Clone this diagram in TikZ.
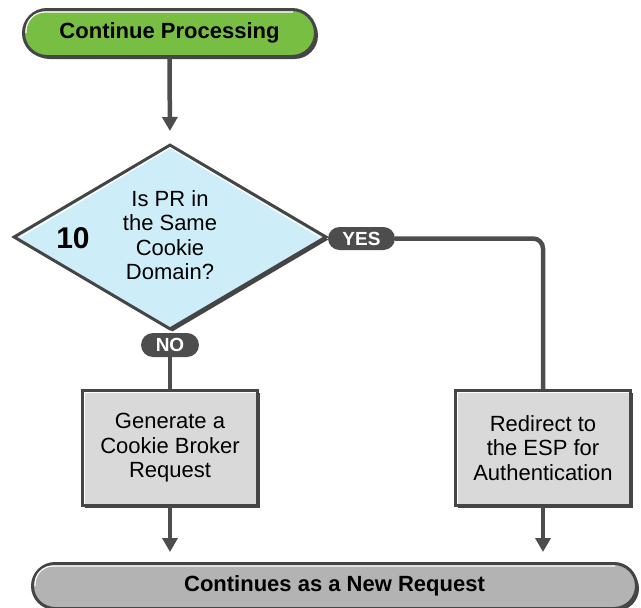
\documentclass[tikz,border=0pt]{standalone}
\usepackage{fontspec}
\setmainfont{Liberation Sans}
\usetikzlibrary{shapes.geometric,arrows.meta,calc,shadows}
\definecolor{cline}{HTML}{4D4D4D}
\definecolor{cborder}{HTML}{454545}
\definecolor{cgreen}{HTML}{78BE43}
\definecolor{cblue}{HTML}{CDEEF9}
\definecolor{cbox}{HTML}{D9D9D9}
\definecolor{cpill}{HTML}{B3B3B3}
\definecolor{ctag}{HTML}{4D4D4D}
\tikzset{
  body/.style={font=\fontsize{22}{24.5}\selectfont},
  shade3d/.style={drop shadow={shadow xshift=2.5pt, shadow yshift=-2.5pt, fill=cborder, opacity=1}},
  pill/.style={draw=cborder, line width=3pt, inner sep=0pt, shade3d,
    font=\fontsize{22}{24.5}\selectfont\bfseries},
  procbox/.style={draw=cborder, line width=3pt, fill=cbox, inner sep=0pt, shade3d,
    minimum width=175pt, minimum height=115pt, align=center,
    font=\fontsize{22}{24.5}\selectfont},
  tag/.style={fill=ctag, text=white, inner sep=0pt,
    font=\fontsize{19}{19}\selectfont\bfseries},
  conn/.style={draw=cline, line width=4.5pt},
  arrowconn/.style={conn, -{Triangle[length=14pt,width=15pt]}},
  hilite/.style={draw=white, line width=1.2pt},
}
\begin{document}
\begin{tikzpicture}[x=1pt,y=-1pt]
\useasboundingbox (0,0) rectangle (641,608);
% top terminal
\node[pill, fill=cgreen, minimum width=292pt, minimum height=47pt, rounded corners=23.5pt]
  (start) at (169.5,33) {Continue Processing};
\draw[hilite, rounded corners=19pt] ($(start.west)+(4,0)$) |- ($(start.north east)+(-24,4)$);
% decision
\node[diamond, draw=cborder, line width=3pt, fill=cblue, inner sep=0pt, shade3d,
  minimum width=313pt, minimum height=185pt] (dec) at (170,237) {};
\draw[hilite] ($(dec.west)+(8,0)$) -- ($(dec.north)+(0,4.8)$) -- ($(dec.east)+(-8,0)$);
\node[body, align=center] (q) at (170,235) {Is PR in\\the Same\\Cookie\\Domain?};
\node[font=\fontsize{30}{30}\selectfont\bfseries] (num) at (73,238) {10};
% tags
\node[tag, minimum width=67pt, minimum height=23pt, rounded corners=11.5pt]
  (yes) at (361.5,238.5) {YES};
\node[tag, minimum width=58pt, minimum height=24pt, rounded corners=12pt]
  (no) at (170,345) {NO};
% process boxes
\node[procbox] (gen) at (170,448) {Generate a\\Cookie Broker\\Request};
\node[procbox] (red) at (543,448) {Redirect to\\the ESP for\\Authentication};
\foreach \b in {gen,red}{
  \draw[hilite] ($(\b.south west)+(3.5,-3.5)$) -- ($(\b.north west)+(3.5,3.5)$) -- ($(\b.north east)+(-3.5,3.5)$);
}
% bottom terminal
\node[pill, fill=cpill, minimum width=604pt, minimum height=45pt, rounded corners=22.5pt]
  (end) at (334.5,586) {Continues as a New Request};
\draw[hilite, rounded corners=18pt] ($(end.west)+(4,0)$) |- ($(end.north east)+(-23,4)$);
% connectors
\draw[arrowconn, shorten >=12pt] (start.south) -- (dec.north);
\draw[conn] (no.south) -- (gen.north);
\draw[conn, rounded corners=10pt] (yes.east) -| (red.north);
\draw[arrowconn, shorten >=10pt] (gen.south) -- (gen.south |- end.north);
\draw[arrowconn, shorten >=10pt] (red.south) -- (red.south |- end.north);
\end{tikzpicture}
\end{document}
